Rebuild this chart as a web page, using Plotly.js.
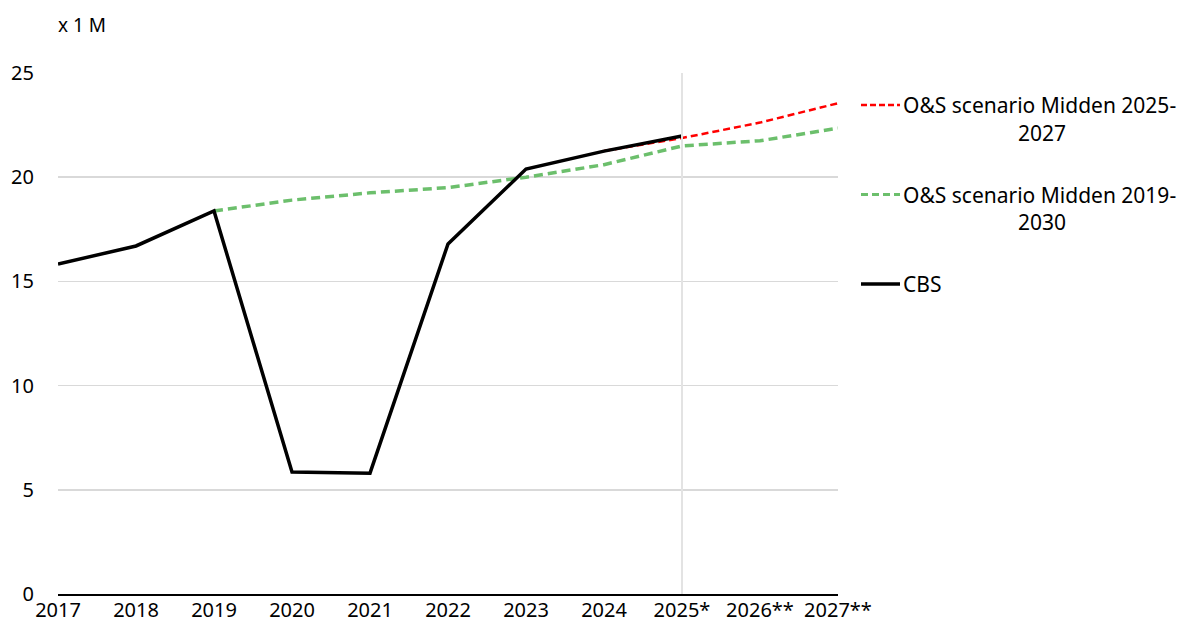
<!DOCTYPE html>
<html>
<head>
<meta charset="utf-8">
<script src="https://cdn.plot.ly/plotly-3.0.1.min.js"></script>
<style>html,body{margin:0;padding:0;background:#fff;}#chart{width:1182px;height:623px;}</style>
</head>
<body>
<div id="chart"></div>
<script>
const years = ["2017","2018","2019","2020","2021","2022","2023","2024","2025*","2026**","2027**"];
const cbs = [15.83, 16.70, 18.38, 5.85, 5.80, 16.80, 20.39, 21.25, 21.98, null, null];
const scenario2019 = [null, null, 18.38, 18.90, 19.25, 19.50, 20.00, 20.60, 21.50, 21.75, 22.35];
const scenario2025 = [null, null, null, null, null, null, null, 21.26, 21.88, 22.62, 23.55];
const yTicks = [0, 5, 10, 15, 20, 25];
const legendNames = ["O&S scenario Midden 2025-", "2027", "O&S scenario Midden 2019-", "2030", "CBS"];

const FONT = "Noto Sans, Open Sans, sans-serif";
const RED_DASH = "7px,4px", GREEN_DASH = "9px,5px";
const traces = [
  {x: years, y: scenario2019, type: "scatter", mode: "lines", name: "green",
   line: {color: "#6cbf6c", width: 3.5, dash: GREEN_DASH}, showlegend: false, hoverinfo: "skip"},
  {x: years, y: scenario2025, type: "scatter", mode: "lines", name: "red",
   line: {color: "#ff0000", width: 2.5, dash: RED_DASH}, showlegend: false, hoverinfo: "skip"},
  {x: years, y: cbs, type: "scatter", mode: "lines", name: "CBS",
   line: {color: "#000000", width: 3.5}, showlegend: false, hoverinfo: "skip"}
];

const W = 1182, H = 623;
const L = 58, R = 838, T = 73, B = 594;
function pxX(px) { return (px - L) / (R - L); }
function py(px) { return (B - px) / (B - T); }

const legendTop = 105, legendStep = 89.5;
const legendItems = [
  {color: "#ff0000", width: 2.5, dash: "6px,3px", l1: legendNames[0], l2: legendNames[1]},
  {color: "#6cbf6c", width: 3, dash: "7px,4px", l1: legendNames[2], l2: legendNames[3]},
  {color: "#000000", width: 3.5, dash: "solid", l1: legendNames[4], l2: null}
];

const shapes = [
  {type: "line", xref: "x", yref: "y", x0: years[8], x1: years[8], y0: -0.3, y1: 25,
   line: {color: "#e3e3e3", width: 2}, layer: "above"}
];
const annotations = [
  {xref: "paper", yref: "paper", x: pxX(56), y: py(25), xanchor: "left", yanchor: "middle",
   text: "x 1 M", showarrow: false, font: {family: FONT, size: 19, color: "#000"}}
];
legendItems.forEach((it, i) => {
  const yc = legendTop + i * legendStep;
  shapes.push({type: "line", xref: "paper", yref: "paper", x0: pxX(861), x1: pxX(900), y0: py(yc), y1: py(yc),
    line: {color: it.color, width: it.width, dash: it.dash}});
  annotations.push({xref: "paper", yref: "paper", x: pxX(901), y: py(yc), xanchor: "left", yanchor: "middle",
    text: it.l1, showarrow: false, font: {family: FONT, size: 21, color: "#000"}});
  if (it.l2) annotations.push({xref: "paper", yref: "paper", x: pxX(1042), y: py(yc + 28), xanchor: "center", yanchor: "middle",
    text: it.l2, showarrow: false, font: {family: FONT, size: 21, color: "#000"}});
});

const layout = {
  width: W, height: H,
  margin: {l: L, r: W - R, t: T, b: H - B, pad: 0},
  paper_bgcolor: "#fff", plot_bgcolor: "#fff",
  showlegend: false,
  font: {family: FONT, size: 20, color: "#000"},
  xaxis: {type: "category", range: [0, 10], showgrid: false, zeroline: false,
    showline: true, linecolor: "#000", linewidth: 1.5, ticks: "", ticklen: 0, ticklabelstandoff: -3,
    tickfont: {family: FONT, size: 20, color: "#000"}, fixedrange: true},
  yaxis: {range: [0, 25], tickvals: yTicks, ticktext: yTicks.map(String), showgrid: true, gridcolor: "#d9d9d9", gridwidth: 1.5,
    zeroline: false, showline: false, ticks: "outside", ticklen: 19, tickcolor: "rgba(0,0,0,0)",
    tickfont: {family: FONT, size: 20, color: "#000"}, fixedrange: true},
  shapes: shapes,
  annotations: annotations
};

Plotly.newPlot("chart", traces, layout, {displayModeBar: false, staticPlot: true});
</script>
</body>
</html>
